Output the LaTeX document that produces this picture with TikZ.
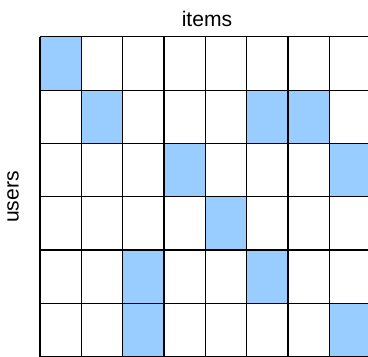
\documentclass[tikz,border=0pt]{standalone}
\usepackage{fontspec}
\setmainfont{Liberation Sans}

\tikzset{
  cellfill/.style={fill=cellblue},
  gridline/.style={draw=black, line width=0.75pt},
  axislabel/.style={font=\fontsize{15}{18}\selectfont, inner sep=0pt}
}
\definecolor{cellblue}{HTML}{99CCFF}

\begin{document}
\begin{tikzpicture}[x=0.025cm, y=-0.025cm]
  % frame of the picture (pixel units, y downwards)
  \useasboundingbox (0,0) rectangle (368,356);
  \clip (0,0) rectangle (368,356);

  % rated cells (row/column)
  \foreach \r/\c in {0/0, 1/1, 1/5, 1/6, 2/3, 2/7, 3/4, 4/2, 4/5, 5/2, 5/7}
    \fill[cellfill] ({40+41.33*\c},{36.7+53.33*\r}) rectangle ++(41.33,53.33);

  % grid
  \foreach \c in {0,...,8}
    \draw[gridline] ({40+41.33*\c},36.7) -- ({40+41.33*\c},356.7);
  \foreach \r in {0,...,6}
    \draw[gridline] (40,{36.7+53.33*\r}) -- (370.6,{36.7+53.33*\r});

  % labels
  \node[axislabel, anchor=base] (itemslabel) at (207,26) {items};
  \node[axislabel, anchor=base, rotate=90] (userslabel) at (18.5,197) {users};
\end{tikzpicture}
\end{document}
